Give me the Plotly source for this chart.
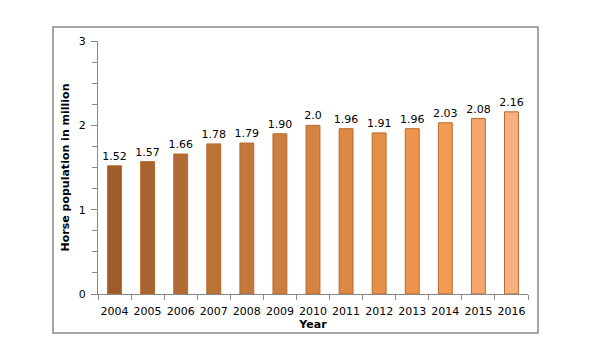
import plotly.graph_objects as go

years = ["2004", "2005", "2006", "2007", "2008", "2009", "2010",
         "2011", "2012", "2013", "2014", "2015", "2016"]
values = [1.52, 1.57, 1.66, 1.78, 1.79, 1.90, 2.0, 1.96, 1.91, 1.96, 2.03, 2.08, 2.16]
labels = ["1.52", "1.57", "1.66", "1.78", "1.79", "1.90", "2.0",
          "1.96", "1.91", "1.96", "2.03", "2.08", "2.16"]
colors = ["#9E5C2A", "#A86430", "#B26B34", "#BC7338", "#C2793B", "#CB7F3F", "#D48442",
          "#DC8945", "#E68F48", "#EF944C", "#F49B56", "#F5A66E", "#F7B07F"]

fig = go.Figure()
fig.add_trace(go.Bar(
    x=years, y=values, text=labels, textposition="outside",
    constraintext="none",
    textfont=dict(size=11, color="#000000", family="DejaVu Sans"),
    marker=dict(color=colors, line=dict(color="#B8692C", width=1)),
    width=0.42, cliponaxis=False,
))

# page offset of 8px (body margin) accounted for
L, R, T, B = 90, 72, 33, 77
W, H = 592, 363
pw = W - L - R
ph = H - T - B

fig.update_layout(
    width=W, height=H,
    margin=dict(l=L, r=R, t=T, b=B, autoexpand=False),
    plot_bgcolor="white", paper_bgcolor="white",
    font=dict(family="DejaVu Sans", size=11, color="#000000"),
    showlegend=False,
    xaxis=dict(
        type="category", range=[-0.5, 12.5], automargin=False,
        showline=True, linecolor="#888888", linewidth=1,
        ticks="outside", ticklen=5, tickcolor="#888888", tickson="boundaries",
        showgrid=False, tickfont=dict(size=11), tickangle=0,
        ticklabelstandoff=7,
        title=dict(text="<b>Year</b>", font=dict(size=11), standoff=0),
    ),
    yaxis=dict(
        range=[0, 3], dtick=1, tick0=0, automargin=False,
        showline=True, linecolor="#888888", linewidth=1,
        ticks="outside", ticklen=6, tickcolor="#888888",
        showgrid=False, zeroline=False, tickfont=dict(size=11),
        ticklabelstandoff=3,
        minor=dict(dtick=0.25, ticks="outside", ticklen=5, tickcolor="#888888", showgrid=False),
        title=dict(text="<b>Horse population in million</b>", font=dict(size=11), standoff=6),
    ),
    shapes=[dict(
        type="rect", xref="paper", yref="paper",
        x0=(45 - L) / pw, x1=(530 - L) / pw,
        y0=(H - B - 325) / ph, y1=(H - B - 19) / ph,
        line=dict(color="#888888", width=1.5), fillcolor="rgba(0,0,0,0)",
        layer="below",
    )],
)

fig.write_html("out.html")
